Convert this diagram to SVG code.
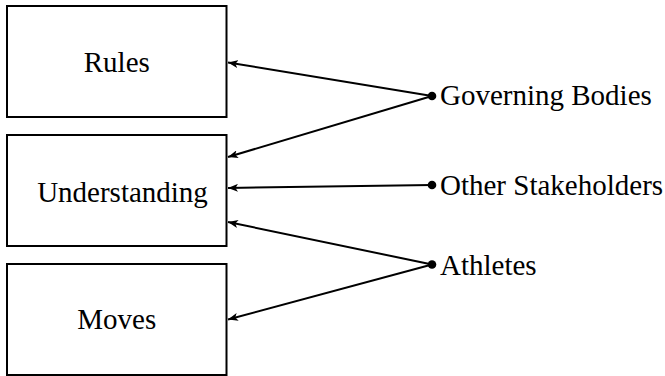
<svg xmlns="http://www.w3.org/2000/svg" width="665" height="376" viewBox="0 0 665 376">
  <defs>
    <marker id="arrow" viewBox="0 0 10 8" refX="10" refY="4" markerWidth="10" markerHeight="8" markerUnits="userSpaceOnUse" orient="auto">
      <path d="M0,0 L10,4 L0,8 L2.5,4 Z" fill="#000"/>
    </marker>
  </defs>
  <style>
    .box { fill: #fff; stroke: #000; stroke-width: 2; }
    text { font-family: "Liberation Serif", "DejaVu Serif", "Times New Roman", Times, serif; font-size: 29px; fill: #000; }
    .edge { stroke: #000; stroke-width: 2; fill: none; marker-end: url(#arrow); }
    .dot { fill: #000; }
  </style>

  <g id="rules">
    <rect class="box" x="7" y="6" width="219.5" height="111"/>
    <text x="116.8" y="71.5" text-anchor="middle">Rules</text>
  </g>
  <g id="understanding">
    <rect class="box" x="7" y="135" width="219.5" height="111"/>
    <text x="122.5" y="201.5" text-anchor="middle">Understanding</text>
  </g>
  <g id="moves">
    <rect class="box" x="7" y="264" width="219.5" height="111"/>
    <text x="116.8" y="328.5" text-anchor="middle">Moves</text>
  </g>

  <g id="governing-bodies">
    <circle class="dot" cx="432" cy="96" r="4.3"/>
    <text x="440" y="105">Governing Bodies</text>
  </g>
  <g id="other-stakeholders">
    <circle class="dot" cx="432" cy="185" r="4.3"/>
    <text x="440" y="195">Other Stakeholders</text>
  </g>
  <g id="athletes">
    <circle class="dot" cx="432" cy="264.5" r="4.3"/>
    <text x="440" y="275">Athletes</text>
  </g>

  <g id="connectors">
    <line class="edge" x1="432" y1="96" x2="228" y2="62.5"/>
    <line class="edge" x1="432" y1="96" x2="228" y2="157"/>
    <line class="edge" x1="432" y1="185" x2="228" y2="188"/>
    <line class="edge" x1="432" y1="264.5" x2="228" y2="222"/>
    <line class="edge" x1="432" y1="264.5" x2="228" y2="319.5"/>
  </g>
</svg>
